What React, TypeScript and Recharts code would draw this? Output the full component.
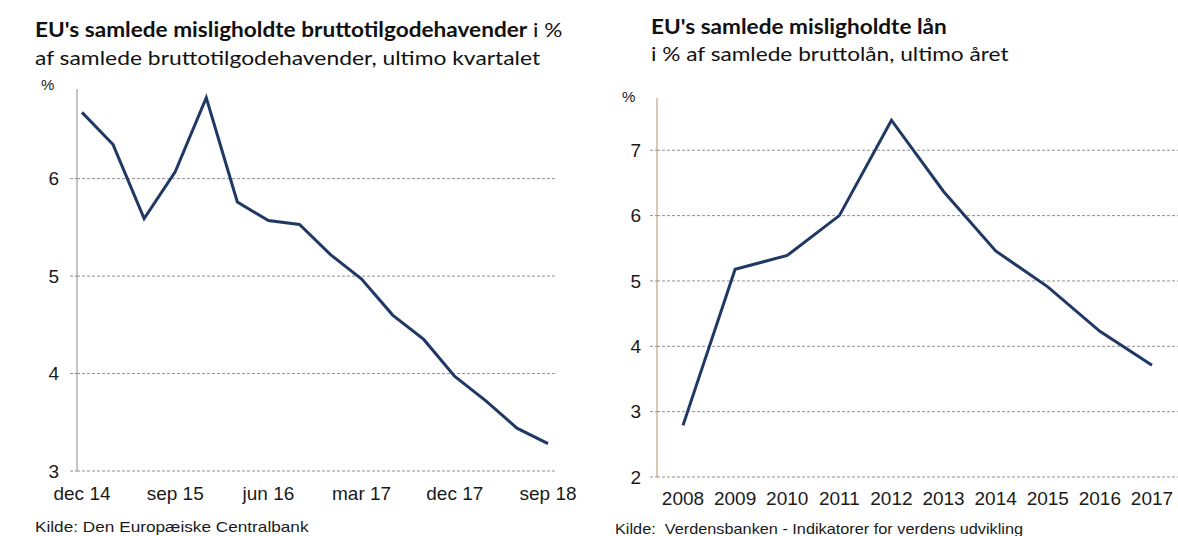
import React, { useLayoutEffect, useRef, useState } from "react";
import { LineChart, Line, XAxis, YAxis, ReferenceLine } from "recharts";

const quarters = [
  "dec 14", "mar 15", "jun 15", "sep 15", "dec 15", "mar 16", "jun 16", "sep 16",
  "dec 16", "mar 17", "jun 17", "sep 17", "dec 17", "mar 18", "jun 18", "sep 18",
];
const npeQuarterly = [6.68, 6.35, 5.59, 6.07, 6.83, 5.76, 5.57, 5.53, 5.22, 4.97, 4.6, 4.35, 3.97, 3.72, 3.44, 3.28];

const years = ["2008", "2009", "2010", "2011", "2012", "2013", "2014", "2015", "2016", "2017"];
const npeYearly = [2.79, 5.18, 5.39, 6.0, 7.46, 6.37, 5.46, 4.91, 4.23, 3.71];

const leftTicks = [3, 4, 5, 6];
const rightTicks = [2, 3, 4, 5, 6, 7];

const LINE = "#1f3864";
const GRID = "#8f8f8f";
const TICK_FONT = "'Liberation Sans', Arial, sans-serif";
const TITLE_FONT = "Lato, 'Open Sans', sans-serif";

const leftData = quarters.map((q, i) => ({ q, v: npeQuarterly[i] }));
const rightData = years.map((y, i) => ({ y, v: npeYearly[i] }));

const tickStyle = { fontSize: 19, fill: "#1a1a1a", fontFamily: TICK_FONT };

// the source text is wider than any installed font, so stretch it to the measured width
function FitText({ left, top, width, style, children }: any) {
  const ref = useRef<HTMLSpanElement>(null);
  const [sx, setSx] = useState(1);
  useLayoutEffect(() => {
    const measure = () => {
      const w = ref.current?.offsetWidth;
      if (w) setSx(width / w);
    };
    measure();
    document.fonts?.ready.then(measure);
  }, [width]);
  return (
    <span
      ref={ref}
      style={{
        position: "absolute",
        left,
        top,
        display: "inline-block",
        whiteSpace: "nowrap",
        transform: `scaleX(${sx})`,
        transformOrigin: "0 0",
        color: "#111",
        ...style,
      }}
    >
      {children}
    </span>
  );
}

const titleStyle = { fontFamily: TITLE_FONT, fontSize: 20 };
const footStyle = { fontFamily: TICK_FONT, fontSize: 15, color: "#1a1a1a" };

export default function App() {
  return (
    <div style={{ position: "absolute", left: 0, top: 0, width: 1178, height: 536, background: "#fff", overflow: "hidden" }}>
      <FitText left={35} top={17} width={528} style={titleStyle}>
        <b>EU's samlede misligholdte bruttotilgodehavender</b> i %
      </FitText>
      <FitText left={35} top={45} width={505} style={titleStyle}>
        af samlede bruttotilgodehavender, ultimo kvartalet
      </FitText>
      <div style={{ position: "absolute", left: 41, top: 76, fontFamily: TICK_FONT, fontSize: 15, color: "#1a1a1a" }}>%</div>

      <FitText left={651} top={14} width={296} style={{ ...titleStyle, fontWeight: 700 }}>
        EU's samlede misligholdte lån
      </FitText>
      <FitText left={651} top={41} width={357} style={titleStyle}>
        i % af samlede bruttolån, ultimo året
      </FitText>
      <div style={{ position: "absolute", left: 622, top: 88, fontFamily: TICK_FONT, fontSize: 15, color: "#1a1a1a" }}>%</div>

      <div style={{ position: "absolute", left: 0, top: 0 }}>
        <LineChart width={600} height={536} data={leftData} margin={{ top: 89, right: 45, bottom: 35, left: 47 }}>
          <XAxis
            dataKey="q"
            interval={2}
            axisLine={false}
            tickLine={false}
            tickMargin={10}
            height={30}
            padding={{ left: 5, right: 7 }}
            tick={tickStyle}
          />
          <YAxis
            domain={[3, 6.92]}
            ticks={leftTicks}
            width={30}
            axisLine={{ stroke: "#8a8a8a" }}
            tickLine={{ stroke: GRID, strokeDasharray: "3 2" }}
            tickSize={7}
            tickMargin={11}
            tick={tickStyle}
          />
          {leftTicks.map((t) => (
            <ReferenceLine key={t} y={t} stroke={GRID} strokeDasharray="3 2" />
          ))}
          <Line dataKey="v" stroke={LINE} strokeWidth={3} dot={false} isAnimationActive={false} />
        </LineChart>
      </div>

      <div style={{ position: "absolute", left: 600, top: 0 }}>
        <LineChart width={578} height={536} data={rightData} margin={{ top: 98, right: 0, bottom: 29, left: 27 }}>
          <XAxis
            dataKey="y"
            interval={0}
            axisLine={false}
            tickLine={false}
            tickMargin={9}
            height={30}
            padding={{ left: 26, right: 26 }}
            tick={tickStyle}
          />
          <YAxis
            domain={[2, 7.8]}
            ticks={rightTicks}
            width={30}
            axisLine={{ stroke: "#a8996a" }}
            tickLine={{ stroke: GRID, strokeDasharray: "3 2" }}
            tickSize={7}
            tickMargin={9}
            tick={tickStyle}
          />
          {rightTicks.map((t) => (
            <ReferenceLine key={t} y={t} stroke={GRID} strokeDasharray="3 2" />
          ))}
          <Line dataKey="v" stroke={LINE} strokeWidth={3} dot={false} isAnimationActive={false} />
        </LineChart>
      </div>

      <FitText left={35} top={518} width={273} style={footStyle}>
        Kilde: Den Europæiske Centralbank
      </FitText>
      <FitText left={615} top={520} width={408} style={footStyle}>
        Kilde:&nbsp; Verdensbanken - Indikatorer for verdens udvikling
      </FitText>
    </div>
  );
}
